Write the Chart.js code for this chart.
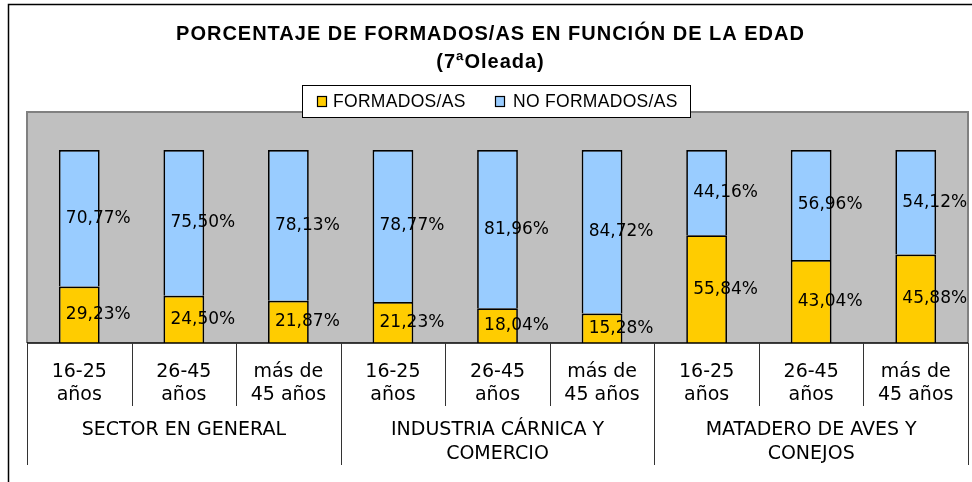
<!DOCTYPE html>
<html>
<head>
<meta charset="utf-8">
<script src="https://cdn.jsdelivr.net/npm/chart.js@4.4.0/dist/chart.umd.min.js"></script>
<style>
html,body{margin:0;padding:0;background:#fff;}
#wrap{width:972px;height:482px;position:relative;}
</style>
</head>
<body>
<div id="wrap"><canvas id="c" width="972" height="482"></canvas></div>
<script>
const titleLines = ['PORCENTAJE DE FORMADOS/AS EN FUNCIÓN DE LA EDAD', '(7ªOleada)'];
const seriesNames = ['FORMADOS/AS', 'NO FORMADOS/AS'];
const categories = [
  ['16-25', 'años'], ['26-45', 'años'], ['más de', '45 años'],
  ['16-25', 'años'], ['26-45', 'años'], ['más de', '45 años'],
  ['16-25', 'años'], ['26-45', 'años'], ['más de', '45 años']
];
const groups = [
  ['SECTOR EN GENERAL'],
  ['INDUSTRIA CÁRNICA Y', 'COMERCIO'],
  ['MATADERO DE AVES Y', 'CONEJOS']
];
const groupSize = 3;
const formados = [29.23, 24.50, 21.87, 21.23, 18.04, 15.28, 55.84, 43.04, 45.88];
const noFormados = [70.77, 75.50, 78.13, 78.77, 81.96, 84.72, 44.16, 56.96, 54.12];
const colors = ['#FFCC00', '#99CCFF'];

const fmt = v => v.toFixed(2).replace('.', ',') + '%';

const decor = {
  id: 'decor',
  beforeDraw(chart) {
    const ctx = chart.ctx, a = chart.chartArea;
    ctx.save();
    ctx.fillStyle = '#fff';
    ctx.fillRect(0, 0, chart.width, chart.height);
    // outer frame
    ctx.strokeStyle = '#000';
    ctx.lineWidth = 1.5;
    ctx.beginPath();
    ctx.moveTo(8.5, 490); ctx.lineTo(8.5, 4.5); ctx.lineTo(980, 4.5);
    ctx.stroke();
    // plot area
    ctx.fillStyle = '#C0C0C0';
    ctx.fillRect(a.left, a.top, a.right - a.left, a.bottom - a.top);
    ctx.strokeStyle = '#808080';
    ctx.lineWidth = 2;
    ctx.beginPath();
    ctx.moveTo(a.left, a.bottom); ctx.lineTo(a.left, a.top); ctx.lineTo(a.right, a.top); ctx.lineTo(a.right, a.bottom);
    ctx.stroke();
    // title
    ctx.fillStyle = '#000';
    ctx.textAlign = 'left';
    ctx.textBaseline = 'middle';
    ctx.font = 'bold 20px "Liberation Sans", Arial, sans-serif';
    ctx.letterSpacing = '1px';
    titleLines.forEach((t, k) => {
      const w = ctx.measureText(t).width - 1;
      ctx.fillText(t, 490 - w / 2, 34 + k * 28);
    });
    ctx.letterSpacing = '0px';
    ctx.restore();
  },
  afterDatasetsDraw(chart) {
    const ctx = chart.ctx, a = chart.chartArea;
    ctx.save();
    // value labels
    ctx.fillStyle = '#000';
    ctx.font = '17px "DejaVu Sans", Verdana, sans-serif';
    ctx.textAlign = 'center';
    ctx.textBaseline = 'middle';
    chart.data.datasets.forEach((ds, di) => {
      const meta = chart.getDatasetMeta(di);
      meta.data.forEach((el, i) => {
        const p = el.getProps(['x', 'y', 'base'], true);
        ctx.fillText(fmt(ds.data[i]), p.x + 19, (p.y + p.base) / 2);
      });
    });
    // axis
    const xs = chart.scales.x;
    const n = categories.length;
    const half = (xs.getPixelForValue(1) - xs.getPixelForValue(0)) / 2;
    ctx.strokeStyle = '#000';
    ctx.lineWidth = 1.5;
    ctx.beginPath();
    ctx.moveTo(a.left, a.bottom); ctx.lineTo(a.right, a.bottom);
    ctx.stroke();
    ctx.strokeStyle = '#333';
    ctx.lineWidth = 1;
    ctx.beginPath();
    for (let i = 0; i <= n; i++) {
      const x = Math.round(xs.getPixelForValue(i) - half) + 0.5;
      const isGroup = (i % groupSize === 0);
      ctx.moveTo(x, a.bottom);
      ctx.lineTo(x, isGroup ? a.bottom + 122 : a.bottom + 63);
    }
    ctx.stroke();
    ctx.fillStyle = '#000';
    ctx.font = '19px "DejaVu Sans", Verdana, sans-serif';
    categories.forEach((lines, i) => {
      const x = xs.getPixelForValue(i);
      lines.forEach((t, k) => ctx.fillText(t, x, a.bottom + 29 + k * 23));
    });
    groups.forEach((lines, g) => {
      const x = xs.getPixelForValue(g * groupSize + (groupSize - 1) / 2);
      lines.forEach((t, k) => ctx.fillText(t, x, a.bottom + 87 + k * 24));
    });
    // legend
    const lx = 302.5, ly = 85.5, lw = 388, lh = 32;
    ctx.fillStyle = '#fff';
    ctx.fillRect(lx, ly, lw, lh);
    ctx.strokeStyle = '#000';
    ctx.lineWidth = 1;
    ctx.strokeRect(lx, ly, lw, lh);
    ctx.font = '17.5px "Liberation Sans", Arial, sans-serif';
    ctx.textAlign = 'left';
    ctx.letterSpacing = '0.3px';
    const items = [{x: 317, tx: 333}, {x: 495, tx: 513}];
    items.forEach((it, k) => {
      ctx.fillStyle = colors[k];
      ctx.fillRect(it.x + 0.5, 96.5, 9, 10);
      ctx.strokeStyle = '#000';
      ctx.lineWidth = 1.2;
      ctx.strokeRect(it.x + 0.5, 96.5, 9, 10);
      ctx.fillStyle = '#000';
      ctx.fillText(seriesNames[k], it.tx, 102);
    });
    ctx.letterSpacing = '0px';
    ctx.restore();
  }
};

new Chart(document.getElementById('c'), {
  type: 'bar',
  data: {
    labels: categories,
    datasets: [
      { label: seriesNames[0], data: formados, backgroundColor: colors[0], borderColor: '#000', borderWidth: 1.7 },
      { label: seriesNames[1], data: noFormados, backgroundColor: colors[1], borderColor: '#000', borderWidth: 1.7 }
    ]
  },
  options: {
    responsive: false,
    animation: false,
    devicePixelRatio: 1,
    layout: { padding: { left: 27, right: 4, top: 112, bottom: 139 } },
    datasets: { bar: { barPercentage: 0.39, categoryPercentage: 1 } },
    scales: {
      x: { stacked: true, display: false },
      y: { stacked: true, display: false, min: 0, max: 119.7 }
    },
    plugins: { legend: { display: false }, title: { display: false }, tooltip: { enabled: false } }
  },
  plugins: [decor]
});
</script>
</body>
</html>
